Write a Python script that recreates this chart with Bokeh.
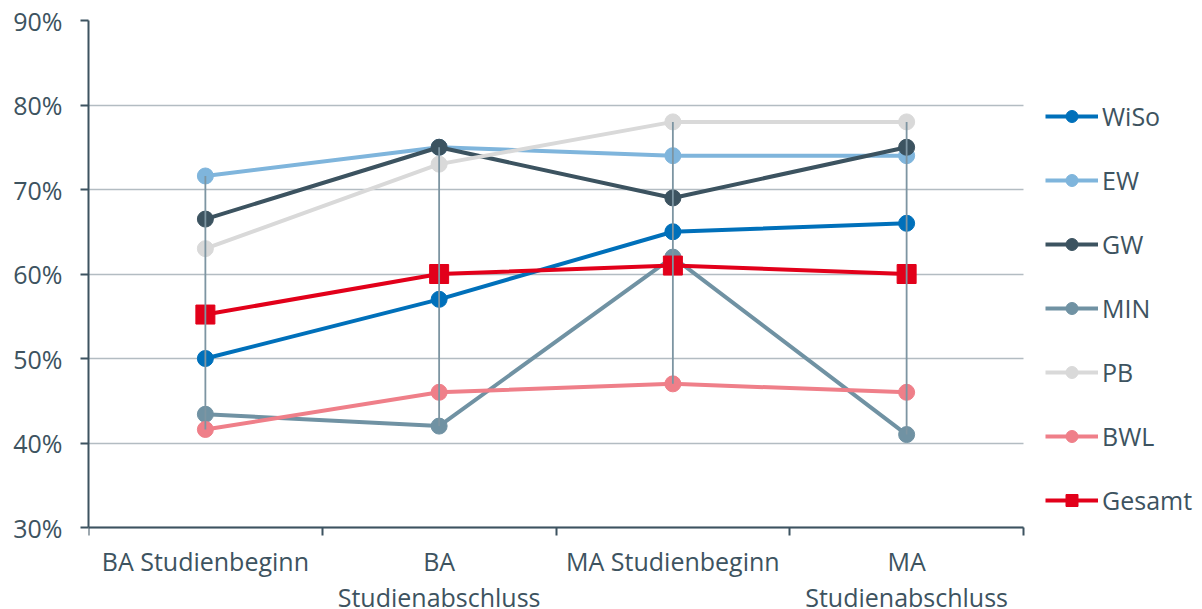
from bokeh.plotting import figure
from bokeh.models import FixedTicker, PrintfTickFormatter, Legend, LegendItem, Range1d, LinearAxis
from bokeh.embed import file_html
from bokeh.resources import INLINE

# Study phases (x categories); a "\n" splits a label over two lines
stages = ["BA Studienbeginn", "BA\nStudienabschluss", "MA Studienbeginn", "MA\nStudienabschluss"]

# Shares per faculty, in percent
wiso = [50.0, 57.0, 65.0, 66.0]
ew = [71.6, 75.0, 74.0, 74.0]
gw = [66.5, 75.0, 69.0, 75.0]
mint = [43.4, 42.0, 62.0, 41.0]
pb = [63.0, 73.0, 78.0, 78.0]
bwl = [41.6, 46.0, 47.0, 46.0]
gesamt = [55.2, 60.0, 61.0, 60.0]

y_ticks = [30, 40, 50, 60, 70, 80, 90]

FONT = "Open Sans"
FS = "25px"
TEXT = "#3d5360"
AXIS = "#3d5360"
GRID = "#b3bcc2"

W, H = 1202, 609
LEFT, PLOT_RIGHT = 88, 1023     # pixel columns of the plotted area
TOP, PLOT_BOTTOM = 20, 527      # pixel rows of the plotted area

n = len(stages)
xs = [i + 0.5 for i in range(n)]
first_lines = [s.split("\n")[0] for s in stages]
second_lines = [s.split("\n")[1] if "\n" in s else " " for s in stages]
y_min, y_max = y_ticks[0], y_ticks[-1]

# the frame runs to the right and bottom edges so that legend and
# category labels can be placed freely inside it
x_end = n * (W - LEFT) / (PLOT_RIGHT - LEFT)
y_start = y_min - (H - PLOT_BOTTOM) * (y_max - y_min) / (PLOT_BOTTOM - TOP)

p = figure(width=W, height=H, x_range=Range1d(0, x_end), y_range=Range1d(y_start, y_max),
           output_backend="svg", toolbar_location=None, x_axis_location=None,
           min_border_left=LEFT, min_border_right=0, min_border_top=TOP, min_border_bottom=0)
p.outline_line_color = None
p.background_fill_color = "white"
p.xgrid.visible = False
p.ygrid.ticker = FixedTicker(ticks=y_ticks)
p.ygrid.grid_line_color = GRID
p.ygrid.grid_line_width = 1.5
p.ygrid.cross_bounds = (0, n)

# y axis
ya = p.yaxis[0]
ya.bounds = (y_min, y_max)
ya.ticker = FixedTicker(ticks=y_ticks)
ya.formatter = PrintfTickFormatter(format="%d%%")
ya.axis_line_color = AXIS
ya.axis_line_width = 2
ya.major_tick_line_color = AXIS
ya.major_tick_line_width = 2
ya.major_tick_out = 8
ya.major_tick_in = 0
ya.minor_tick_line_color = None
ya.major_label_standoff = 18
ya.major_label_text_font = FONT
ya.major_label_text_font_size = FS
ya.major_label_text_color = TEXT

# x axis pinned at the 30% line: first label line at category centres,
# tick marks at category boundaries
xa = LinearAxis(fixed_location=y_min, bounds=(0, n),
                ticker=FixedTicker(ticks=xs, minor_ticks=list(range(n + 1))),
                major_label_overrides={x: s for x, s in zip(xs, first_lines)})
xa.axis_line_color = AXIS
xa.axis_line_width = 2
xa.major_tick_in = 0
xa.major_tick_out = 0
xa.minor_tick_in = 0
xa.minor_tick_out = 8
xa.minor_tick_line_color = AXIS
xa.minor_tick_line_width = 2
xa.major_label_standoff = 8
xa.major_label_text_font = FONT
xa.major_label_text_font_size = FS
xa.major_label_text_color = TEXT
p.add_layout(xa, "below")

# second label line
xa2 = LinearAxis(fixed_location=y_min, bounds=(0, n), ticker=FixedTicker(ticks=xs),
                 major_label_overrides={x: s for x, s in zip(xs, second_lines)})
xa2.axis_line_color = None
xa2.major_tick_line_color = None
xa2.minor_tick_line_color = None
xa2.major_tick_in = 0
xa2.major_tick_out = 0
xa2.major_label_standoff = 52
xa2.major_label_text_font = FONT
xa2.major_label_text_font_size = FS
xa2.major_label_text_color = TEXT
p.add_layout(xa2, "below")

series = [
    ("WiSo", wiso, "#0070ba"),
    ("EW", ew, "#7fb5dc"),
    ("GW", gw, "#3c5360"),
    ("MIN", mint, "#7092a3"),
    ("PB", pb, "#d9d9d9"),
    ("BWL", bwl, "#ef7f89"),
]

items = []
for name, vals, col in series:
    ln = p.line(xs, vals, line_color=col, line_width=4)
    mk = p.scatter(xs, vals, marker="circle", size=16, fill_color=col, line_color=col)
    items.append(LegendItem(label=name, renderers=[ln, mk]))

ln = p.line(xs, gesamt, line_color="#e2001a", line_width=4)
mk = p.scatter(xs, gesamt, marker="square", size=19, fill_color="#e2001a", line_color="#e2001a")
items.append(LegendItem(label="Gesamt", renderers=[ln, mk]))

# high-low lines spanning all series at each phase, drawn on top
all_vals = [wiso, ew, gw, mint, pb, bwl, gesamt]
lows = [min(v[i] for v in all_vals) for i in range(n)]
highs = [max(v[i] for v in all_vals) for i in range(n)]
p.segment(x0=xs, y0=lows, x1=xs, y1=highs, line_color="#7d95a2", line_width=1.8)

legend = Legend(items=items, location=(1045 - LEFT, 92))
legend.label_text_font = FONT
legend.label_text_font_size = FS
legend.label_text_color = TEXT
legend.glyph_width = 53
legend.glyph_height = 30
legend.spacing = 30
legend.padding = 0
legend.margin = 0
legend.label_standoff = 4
legend.border_line_color = None
legend.background_fill_alpha = 0
p.add_layout(legend)

open("out.html", "w").write(file_html(p, INLINE))
